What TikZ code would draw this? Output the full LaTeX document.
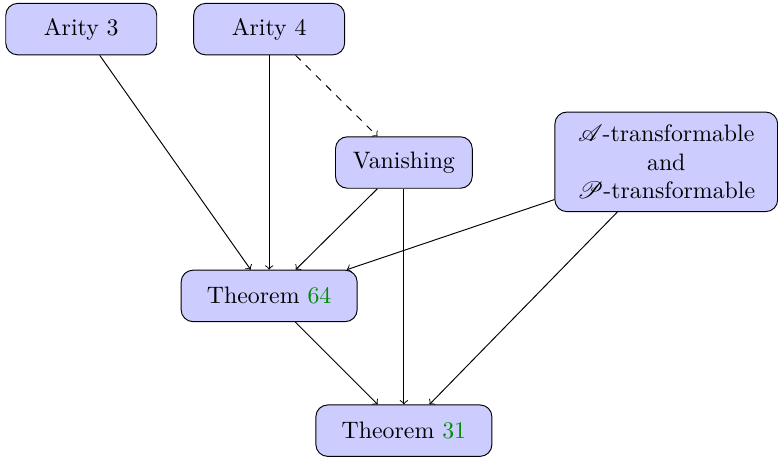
\documentclass[tikz,border=0pt]{standalone}
\usepackage{amsmath}
\usepackage{mathrsfs}
\definecolor{refgreen}{rgb}{0,0.55,0}
\newcommand{\thmref}[1]{\textcolor{refgreen}{#1}}

\begin{document}
\begin{tikzpicture}[
box/.style = {draw, fill=blue!20, rounded corners=5pt, align=center,
              inner xsep=7pt, inner ysep=4pt, minimum height=0.76cm},
->]
\useasboundingbox (0,0) rectangle (11.49,-6.78);
    \node[box, minimum width=2.23cm] (arity3) at (1.20,-0.43) {Arity 3};
    \node[box, minimum width=2.23cm] (arity4) at (3.975,-0.43) {Arity 4};
    \node[box, minimum width=2.02cm] (vanish) at (5.965,-2.40) {Vanishing};
    \node[box, minimum width=3.29cm, minimum height=1.47cm] (transf) at (9.84,-2.39)
        {$\mathscr{A}$-transformable\\and\\$\mathscr{P}$-transformable};
    \node[box, minimum width=2.6cm] (thm64) at (3.975,-4.37) {Theorem \thmref{64}};
    \node[box, minimum width=2.6cm] (thm31) at (5.965,-6.36) {Theorem \thmref{31}};

    \draw (arity3) -- (thm64);
    \draw (arity4) -- (thm64);
    \draw[dashed] (arity4) -- (vanish);
    \draw (vanish) -- (thm64);
    \draw (vanish) -- (thm31);
    \draw (transf) -- (thm64);
    \draw (transf) -- (thm31);
    \draw (thm64) -- (thm31);
\end{tikzpicture}
\end{document}
